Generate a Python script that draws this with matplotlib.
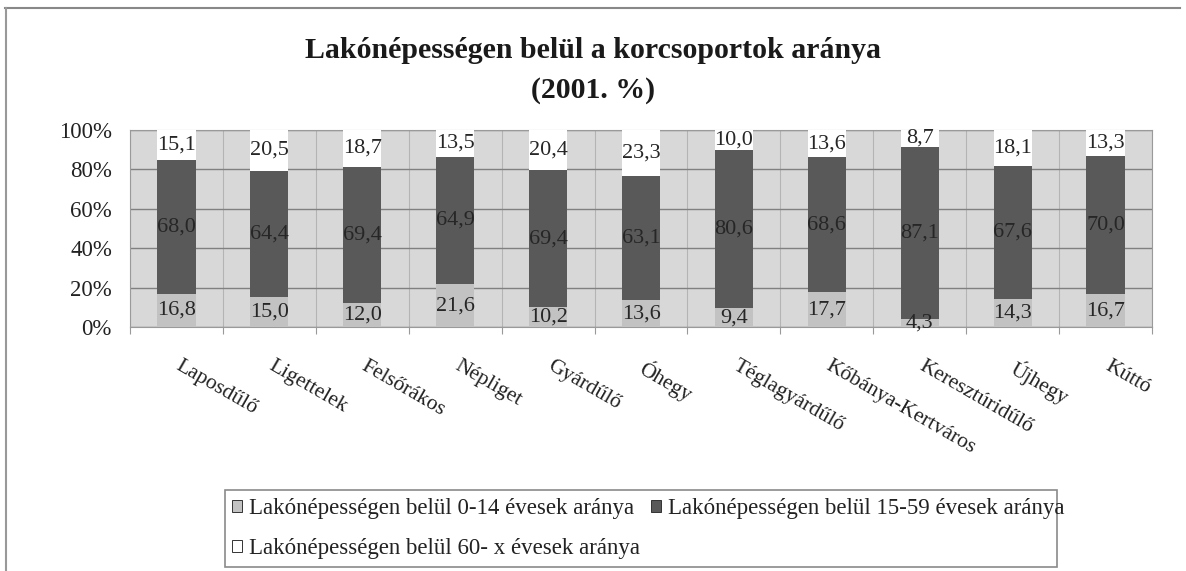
import numpy as np
import matplotlib.pyplot as plt
from matplotlib.patches import Rectangle
from matplotlib.lines import Line2D
from matplotlib.ticker import FuncFormatter

plt.rcParams['font.family'] = ['Liberation Serif', 'DejaVu Serif']

# data (shares, %)
districts = ["Laposdűlő", "Ligettelek", "Felsőrákos", "Népliget", "Gyárdűlő", "Óhegy",
             "Téglagyárdűlő", "Kőbánya-Kertváros", "Keresztúridűlő", "Újhegy", "Kúttó"]
age_0_14 = [16.8, 15.0, 12.0, 21.6, 10.2, 13.6, 9.4, 17.7, 4.3, 14.3, 16.7]
age_15_59 = [68.0, 64.4, 69.4, 64.9, 69.4, 63.1, 80.6, 68.6, 87.1, 67.6, 70.0]
age_60_x = [15.1, 20.5, 18.7, 13.5, 20.4, 23.3, 10.0, 13.6, 8.7, 18.1, 13.3]
series_names = ["Lakónépességen belül 0-14 évesek aránya",
                "Lakónépességen belül 15-59 évesek aránya",
                "Lakónépességen belül 60- x évesek aránya"]
title_1 = "Lakónépességen belül a korcsoportok aránya"
title_2 = "(2001. %)"

W, H = 1186, 571
fig = plt.figure(figsize=(W / 100, H / 100), dpi=100)
# plot area: x 130..1152 px, y 130..327 px
ax = fig.add_axes([130 / W, 1 - 327 / H, 1022 / W, 197 / H])
ax.set_facecolor("#d8d8d8")

x = np.arange(len(districts))
w = 0.41
a = np.array(age_0_14)
b = np.array(age_15_59)
c = np.array(age_60_x)
b1 = ax.bar(x, a, w, color="#c2c2c2", zorder=3)
b2 = ax.bar(x, b, w, bottom=a, color="#595959", zorder=3)
b3 = ax.bar(x, c, w, bottom=a + b, color="white", zorder=3)

# data labels, centred in each segment
for vals, bottoms in [(a, 0 * a), (b, a), (c, a + b)]:
    for xi, v, bt in zip(x, vals, bottoms):
        ax.text(xi, bt + v / 2, f"{v:.1f}".replace(".", ","), ha="center", va="center",
                fontsize=16, color="#262626", zorder=4)

ax.set_xlim(-0.5, len(districts) - 0.5)
ax.set_ylim(0, 100)
ax.set_yticks(range(0, 101, 20))
ax.yaxis.set_major_formatter(FuncFormatter(lambda v, p: f"{v:.0f}%"))
ax.grid(axis="y", color="#808080", lw=1, zorder=1)
for xb in np.arange(-0.5, len(districts), 1):
    ax.axvline(xb, color="#b4b4b4", lw=0.8, zorder=1)

ax.set_xticks(np.arange(-0.5, len(districts), 1))
ax.set_xticklabels([])
ax.tick_params(axis="x", length=5, color="#999999")
ax.tick_params(axis="y", length=0, labelsize=16.5, pad=13, labelcolor="#222222")
for xi, name in zip(x, districts):
    ax.text(xi + 0.06, -0.15, name, rotation=-30, rotation_mode="anchor",
            ha="left", va="top", fontsize=15.5, color="#222222",
            transform=ax.get_xaxis_transform(), clip_on=False)

for s in ax.spines.values():
    s.set_color("#9a9a9a")

fig.text(0.5, 1 - 50 / H, title_1, ha="center", va="center",
         fontsize=21.5, fontweight="bold", color="#1a1a1a")
fig.text(0.5, 1 - 90 / H, title_2, ha="center", va="center",
         fontsize=21.5, fontweight="bold", color="#1a1a1a")

leg = fig.legend([b1, b3, b2], [series_names[0], series_names[2], series_names[1]],
                 ncol=2, loc="upper left", bbox_to_anchor=(232 / W, 1 - 498 / H),
                 fontsize=16.5, frameon=False, borderpad=0, borderaxespad=0,
                 handlelength=0.45, handleheight=0.45, handletextpad=0.3,
                 columnspacing=0.45, labelspacing=0.85)
for t in leg.get_texts():
    t.set_color("#222222")
for h in leg.legend_handles:
    h.set_edgecolor("#333333")
    h.set_linewidth(0.7)

# legend box and outer chart frame
fig.add_artist(Rectangle((225 / W, 1 - 567 / H), 832 / W, 77 / H, transform=fig.transFigure,
                         fill=False, edgecolor="#8a8a8a", lw=1.2))
fig.add_artist(Line2D([5 / W, 1180 / W], [1 - 8 / H, 1 - 8 / H], transform=fig.transFigure,
                      color="#888888", lw=1.5))
fig.add_artist(Line2D([6 / W, 6 / W], [0, 1 - 8 / H], transform=fig.transFigure,
                      color="#999999", lw=1.5))

fig.savefig("out.png", dpi=100)
